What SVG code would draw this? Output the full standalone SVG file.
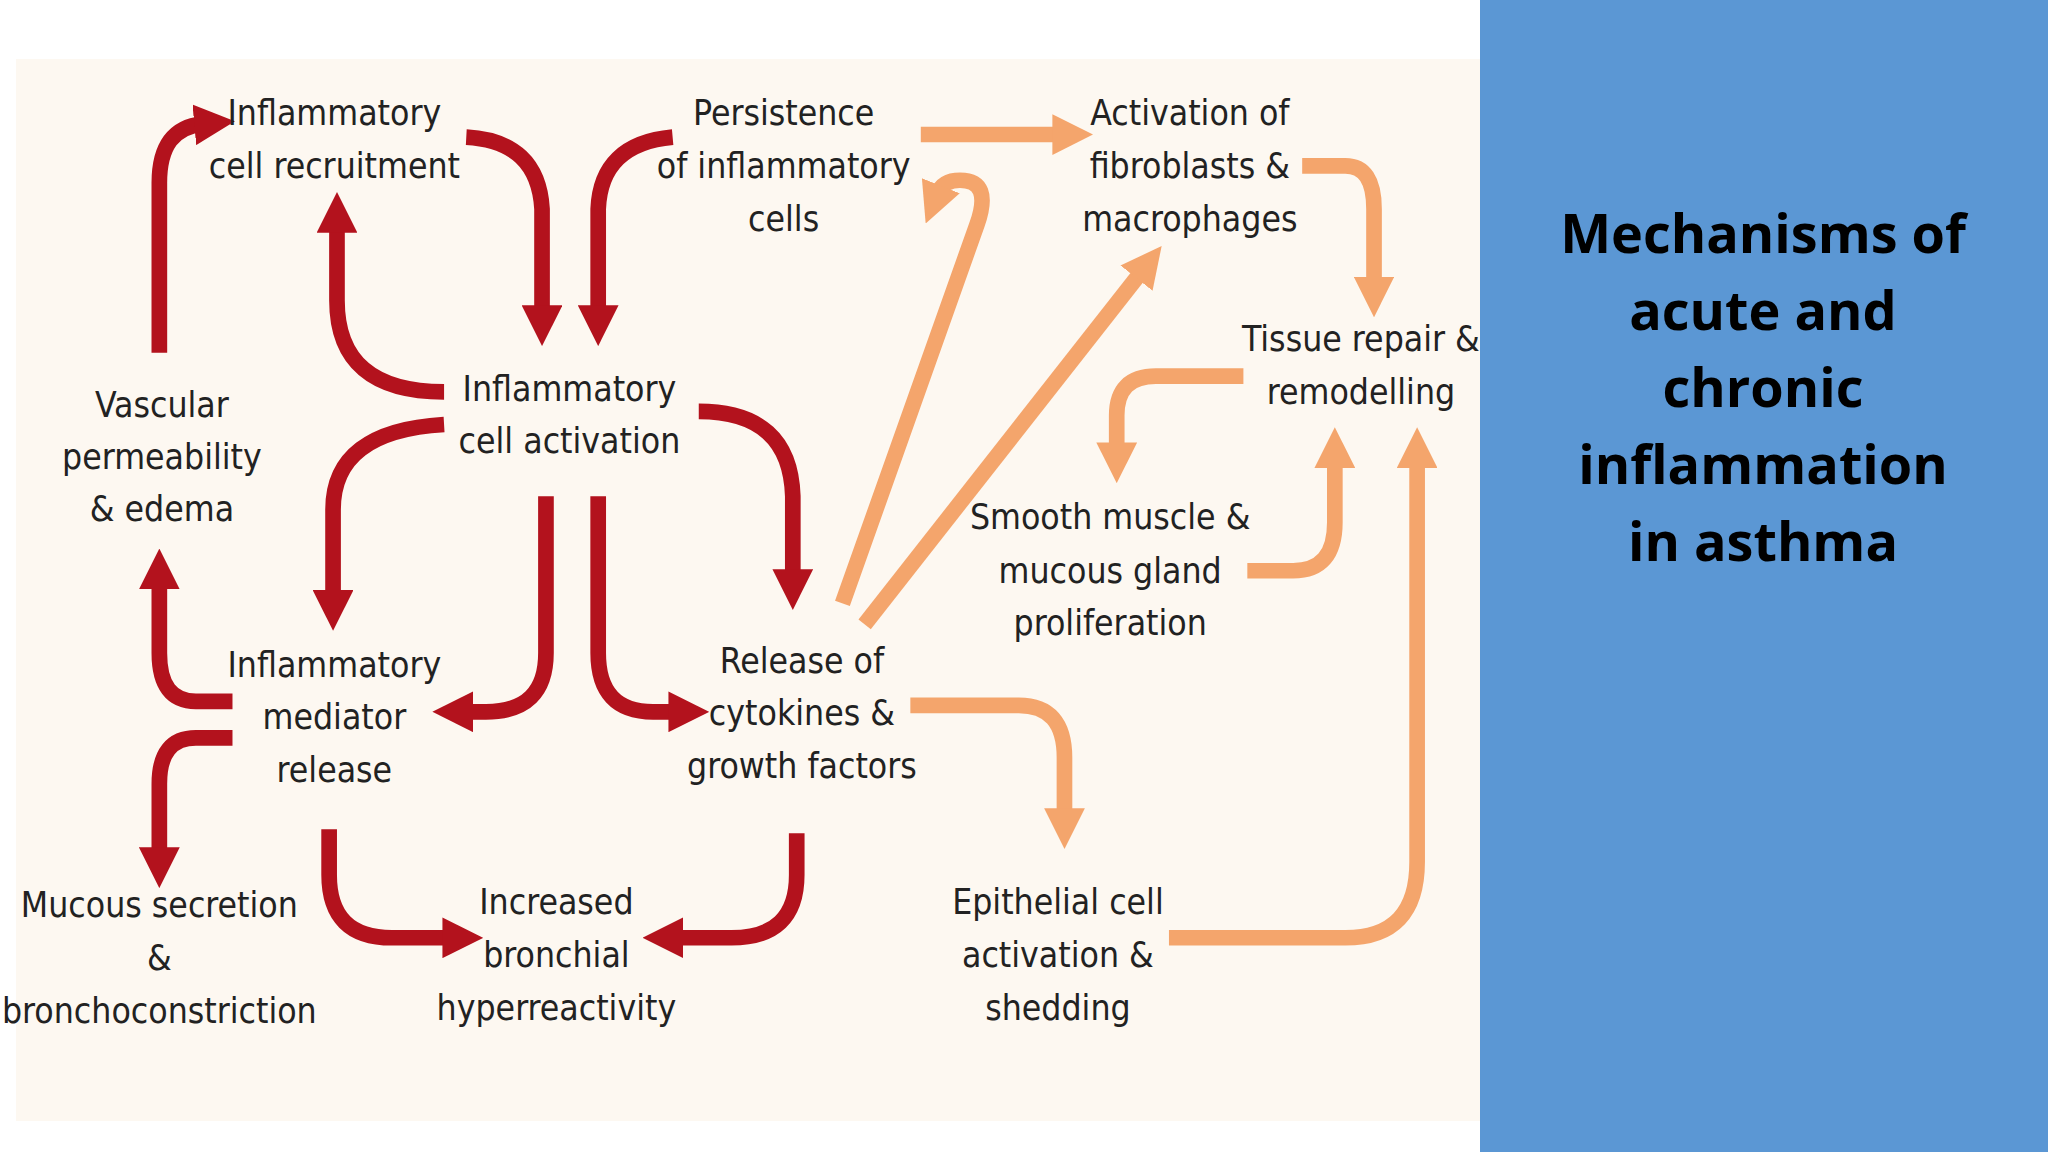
<svg xmlns="http://www.w3.org/2000/svg" width="2048" height="1152" viewBox="0 0 2048 1152">
<defs>
<style>
.t{font-family:"Liberation Sans Narrow","DejaVu Sans Condensed","Liberation Sans",sans-serif;font-size:27px;fill:#222;text-anchor:middle}
.r{fill:none;stroke:#b3121d;stroke-width:12}
.o{fill:none;stroke:#f4a56c;stroke-width:12}
.h{font-family:"Open Sans","Liberation Sans",sans-serif;font-weight:bold;font-size:54px;fill:#000;text-anchor:middle}
</style>
<marker id="mr" viewBox="0 0 10 10" refX="2" refY="5" markerWidth="2.6" markerHeight="2.6" orient="auto"><path d="M0,0L10,5L0,10z" fill="#b3121d"/></marker>
<marker id="mo" viewBox="0 0 10 10" refX="2" refY="5" markerWidth="2.6" markerHeight="2.6" orient="auto"><path d="M0,0L10,5L0,10z" fill="#f4a56c"/></marker>
</defs>
<rect width="2048" height="1152" fill="#fff"/>
<rect x="16" y="59" width="1464" height="1062" fill="#fdf8f1"/>
<rect x="1480" y="0" width="568" height="1152" fill="#5b97d4"/>
<g id="title"><text class="h" x="1763" y="253">Mechanisms of</text><text class="h" x="1763" y="330">acute and</text><text class="h" x="1763" y="407">chronic</text><text class="h" x="1763" y="484">inflammation</text><text class="h" x="1763" y="561">in asthma</text></g>
<g transform="scale(1.3061)">
<g id="connectors">
<path class="r" marker-end="url(#mr)" d="M122,270V140Q122,98 155,95"/>
<path class="r" marker-end="url(#mr)" d="M357,105Q412,108 415,160V240"/>
<path class="r" marker-end="url(#mr)" d="M515,105Q460,110 458,160V240"/>
<path class="r" marker-end="url(#mr)" d="M340,300Q258,300 258,230V172"/>
<path class="r" marker-end="url(#mr)" d="M340,325Q255,330 255,390V458"/>
<path class="r" marker-end="url(#mr)" d="M535,315Q605,315 607,380V442"/>
<path class="r" marker-end="url(#mr)" d="M418,380V500Q418,545 372,545H356"/>
<path class="r" marker-end="url(#mr)" d="M458,380V500Q458,545 500,545H518"/>
<path class="r" marker-end="url(#mr)" d="M178,537H150Q122,537 122,500V445"/>
<path class="r" marker-end="url(#mr)" d="M178,565H150Q122,565 122,600V655"/>
<path class="r" marker-end="url(#mr)" d="M252,635V670Q252,718 300,718H345"/>
<path class="r" marker-end="url(#mr)" d="M610,638V670Q610,718 560,718H517"/>
<path class="o" marker-end="url(#mo)" d="M705,103H812"/>
<path class="o" marker-end="url(#mo)" d="M997,127H1030Q1052,127 1052,160V218"/>
<path class="o" marker-end="url(#mo)" d="M645,462L748,172Q760,138 735,138Q722,138 718,148"/>
<path class="o" marker-end="url(#mo)" d="M662,478L874,208"/>
<path class="o" marker-end="url(#mo)" d="M952,288H885Q855,288 855,318V345"/>
<path class="o" marker-end="url(#mo)" d="M955,437H990Q1022,437 1022,400V352"/>
<path class="o" marker-end="url(#mo)" d="M697,540H780Q815,540 815,580V625"/>
<path class="o" marker-end="url(#mo)" d="M895,718H1030Q1085,718 1085,660V352"/>
</g>
<g id="n1"><text class="t" x="256" y="96">Inflammatory</text><text class="t" x="256" y="136">cell recruitment</text></g>
<g id="n2"><text class="t" x="600" y="96">Persistence</text><text class="t" x="600" y="136">of inflammatory</text><text class="t" x="600" y="177">cells</text></g>
<g id="n3"><text class="t" x="911" y="96">Activation of</text><text class="t" x="911" y="136">fibroblasts &amp;</text><text class="t" x="911" y="177">macrophages</text></g>
<g id="n4"><text class="t" x="1042" y="269">Tissue repair &amp;</text><text class="t" x="1042" y="309">remodelling</text></g>
<g id="n5"><text class="t" x="124" y="319">Vascular</text><text class="t" x="124" y="359">permeability</text><text class="t" x="124" y="399">&amp; edema</text></g>
<g id="n6"><text class="t" x="436" y="307">Inflammatory</text><text class="t" x="436" y="347">cell activation</text></g>
<g id="n7"><text class="t" x="850" y="405">Smooth muscle &amp;</text><text class="t" x="850" y="446">mucous gland</text><text class="t" x="850" y="486">proliferation</text></g>
<g id="n8"><text class="t" x="256" y="518">Inflammatory</text><text class="t" x="256" y="558">mediator</text><text class="t" x="256" y="599">release</text></g>
<g id="n9"><text class="t" x="614" y="515">Release of</text><text class="t" x="614" y="555">cytokines &amp;</text><text class="t" x="614" y="596">growth factors</text></g>
<g id="n10"><text class="t" x="122" y="702">Mucous secretion</text><text class="t" x="122" y="743">&amp;</text><text class="t" x="122" y="783">bronchoconstriction</text></g>
<g id="n11"><text class="t" x="426" y="700">Increased</text><text class="t" x="426" y="740">bronchial</text><text class="t" x="426" y="781">hyperreactivity</text></g>
<g id="n12"><text class="t" x="810" y="700">Epithelial cell</text><text class="t" x="810" y="740">activation &amp;</text><text class="t" x="810" y="781">shedding</text></g>
</g>
</svg>
